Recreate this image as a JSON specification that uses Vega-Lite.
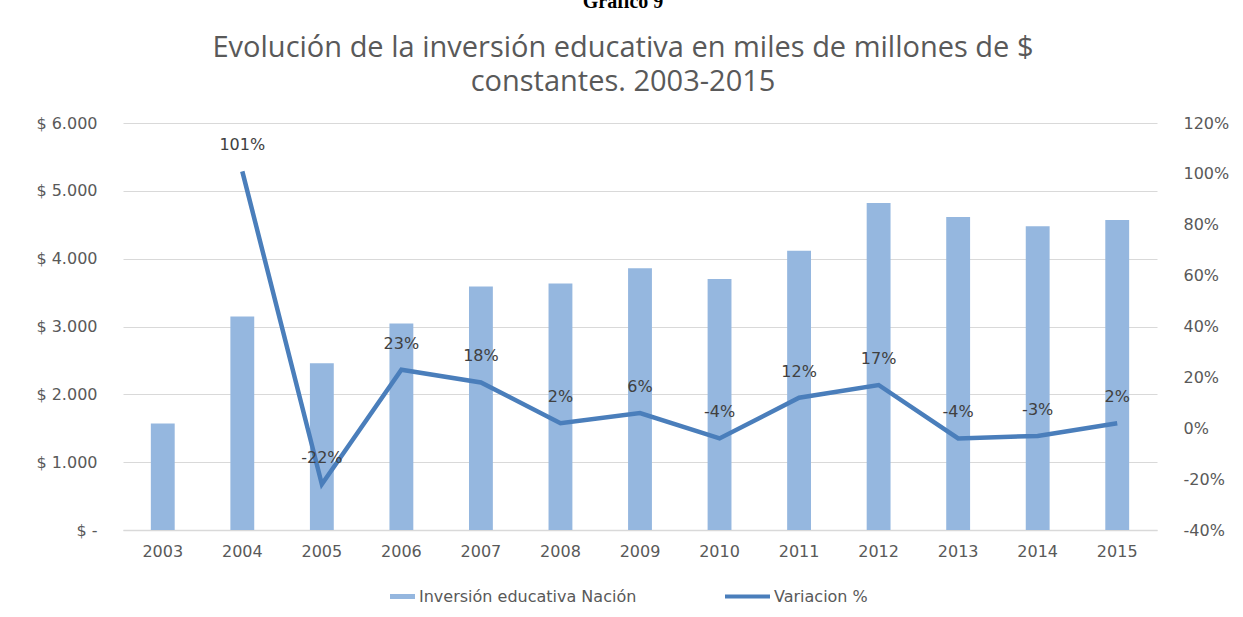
{
  "$schema": "https://vega.github.io/schema/vega-lite/v6.json",
  "width": 1034,
  "height": 407,
  "autosize": {"type": "none"},
  "padding": {"left": 123, "top": 123, "right": 86, "bottom": 87},
  "background": "white",
  "title": {
    "text": "Gráfico 9",
    "subtitle": ["Evolución de la inversión educativa en miles de millones de $", "constantes. 2003-2015"],
    "font": "Liberation Serif",
    "fontSize": 20,
    "fontWeight": "bold",
    "color": "black",
    "subtitleFont": "Open Sans",
    "subtitleFontSize": 29,
    "subtitleColor": "#595959",
    "subtitleLineHeight": 34,
    "subtitlePadding": 22,
    "anchor": "middle",
    "dx": -17,
    "offset": 18
  },
  "data": {"values": [
    {"year": "2003", "inv": 1571, "var": null},
    {"year": "2004", "inv": 3147, "var": 1.01},
    {"year": "2005", "inv": 2459, "var": -0.22},
    {"year": "2006", "inv": 3044, "var": 0.23},
    {"year": "2007", "inv": 3589, "var": 0.18},
    {"year": "2008", "inv": 3633, "var": 0.02},
    {"year": "2009", "inv": 3859, "var": 0.06},
    {"year": "2010", "inv": 3702, "var": -0.04},
    {"year": "2011", "inv": 4115, "var": 0.12},
    {"year": "2012", "inv": 4822, "var": 0.17},
    {"year": "2013", "inv": 4616, "var": -0.04},
    {"year": "2014", "inv": 4477, "var": -0.03},
    {"year": "2015", "inv": 4571, "var": 0.02}
  ]},
  "encoding": {
    "x": {
      "field": "year", "type": "nominal",
      "scale": {"paddingInner": 0.7, "paddingOuter": 0.35},
      "axis": {"title": null, "labelAngle": 0, "ticks": false, "labelPadding": 13, "labelFont": "DejaVu Sans", "labelFontSize": 16, "labelColor": "#595959", "domainColor": "#D9D9D9", "domainWidth": 1.5}
    }
  },
  "layer": [
    {
      "mark": {"type": "bar", "color": "#95B7DF"},
      "encoding": {
        "y": {
          "field": "inv", "type": "quantitative",
          "scale": {"domain": [0, 6000]},
          "axis": {"title": null, "values": [0, 1000, 2000, 3000, 4000, 5000, 6000], "labelExpr": "datum.value == 0 ? '$ -' : '$ ' + format(datum.value, ',')", "ticks": false, "domain": false, "labelPadding": 26, "labelFont": "DejaVu Sans", "labelFontSize": 16, "labelColor": "#595959", "gridColor": "#D9D9D9", "gridWidth": 1.2}
        },
        "color": {
          "datum": "Inversión educativa Nación",
          "scale": {"range": ["#95B7DF"]},
          "legend": {"title": null, "orient": "none", "legendX": 267, "legendY": 461, "symbolType": "M-1,-0.2H1V0.2H-1Z", "symbolSize": 625, "symbolStrokeWidth": 0, "labelFont": "DejaVu Sans", "labelFontSize": 16, "labelColor": "#595959", "labelOffset": 4, "labelLimit": 400}
        }
      }
    },
    {
      "layer": [
        {
          "mark": {"type": "line", "strokeWidth": 4.5, "color": "#4A7EBB"},
          "encoding": {
            "y": {
              "field": "var", "type": "quantitative",
              "scale": {"domain": [-0.4, 1.2]},
              "axis": {"title": null, "orient": "right", "values": [-0.4, -0.2, 0, 0.2, 0.4, 0.6, 0.8, 1.0, 1.2], "format": ".0%", "grid": false, "ticks": false, "domain": false, "labelPadding": 26, "labelFont": "DejaVu Sans", "labelFontSize": 16, "labelColor": "#595959"}
            },
            "color": {
              "datum": "Variacion %",
              "scale": {"range": ["#4A7EBB"]},
              "legend": {"title": null, "orient": "none", "legendX": 600, "legendY": 449, "symbolType": "stroke", "symbolSize": 2025, "symbolStrokeWidth": 4, "labelFont": "DejaVu Sans", "labelFontSize": 16, "labelColor": "#595959", "labelOffset": 2, "labelLimit": 400}
            }
          }
        },
        {
          "mark": {"type": "text", "dy": -26, "font": "DejaVu Sans", "fontSize": 16, "color": "#404040", "baseline": "middle"},
          "encoding": {
            "y": {"field": "var", "type": "quantitative"},
            "text": {"field": "var", "type": "quantitative", "format": ".0%"}
          }
        }
      ]
    }
  ],
  "resolve": {"scale": {"y": "independent", "color": "independent"}, "legend": {"color": "independent"}},
  "config": {
    "view": {"stroke": null},
    "locale": {"number": {"decimal": ",", "thousands": ".", "grouping": [3], "currency": ["$", ""], "minus": "-", "percent": "%"}}
  }
}
